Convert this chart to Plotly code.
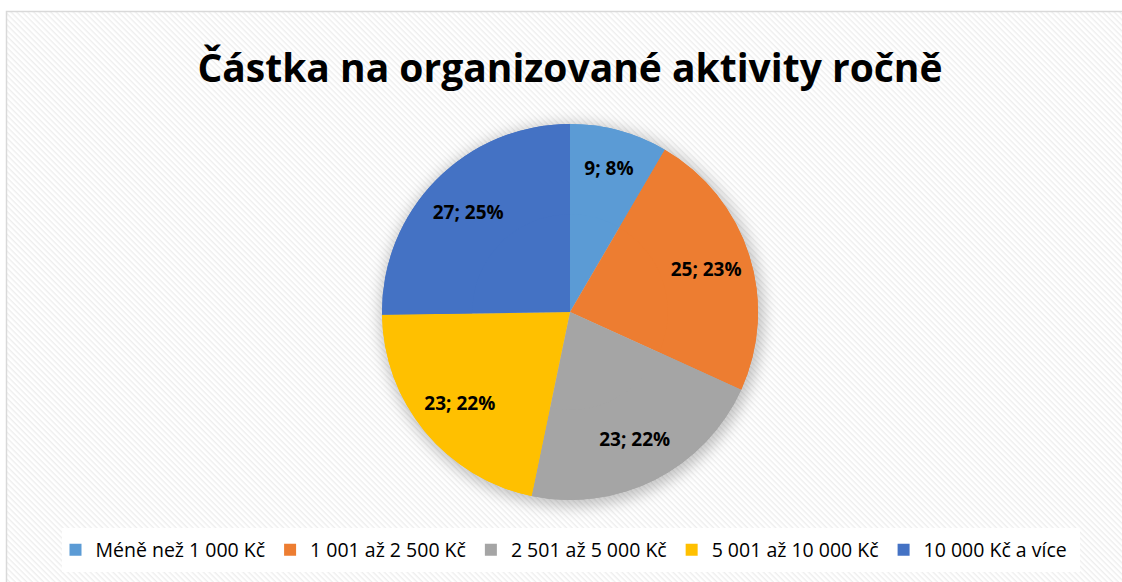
import base64
import plotly.graph_objects as go

# ---- data ----
title_text = "Částka na organizované aktivity ročně"
categories = ["Méně než 1 000 Kč", "1 001 až 2 500 Kč", "2 501 až 5 000 Kč",
              "5 001 až 10 000 Kč", "10 000 Kč a více"]
values = [9, 25, 23, 23, 27]
colors = ["#5B9BD5", "#ED7D31", "#A5A5A5", "#FFC000", "#4472C4"]

# whole-number percentages that sum to 100 (largest remainder, as the source chart shows)
total = sum(values)
raw = [v * 100 / total for v in values]
pct = [int(x) for x in raw]
order = sorted(range(len(raw)), key=lambda i: raw[i] - pct[i], reverse=True)
for i in order[: 100 - sum(pct)]:
    pct[i] += 1
pct_text = [f"{p}%" for p in pct]

W, H = 1122, 582
FONT = "Open Sans, Noto Sans, DejaVu Sans, sans-serif"

# pie placement (pixels -> paper)
cx, cy, r = 570, 312, 188
dom_x = [(cx - r) / W, (cx + r) / W]
dom_y = [1 - (cy + r) / H, 1 - (cy - r) / H]

# background: hatched chart area with frame and soft pie shadow
svg = f'''<svg xmlns="http://www.w3.org/2000/svg" width="{W}" height="{H}" viewBox="0 0 {W} {H}">
<defs>
<pattern id="p" width="4" height="4" patternUnits="userSpaceOnUse" patternTransform="rotate(45)">
<rect width="4" height="4" fill="#ffffff"/>
<rect width="4" height="1.4" fill="#eeeeee"/>
</pattern>
<filter id="b" x="-30%" y="-30%" width="160%" height="160%"><feGaussianBlur stdDeviation="7"/></filter>
</defs>
<rect x="6.5" y="11.5" width="{W}" height="{H}" fill="url(#p)" stroke="#d9d9d9" stroke-width="1.5"/>
<circle cx="{cx+2}" cy="{cy+3}" r="{r+4}" fill="#000000" fill-opacity="0.22" filter="url(#b)"/>
<rect x="62" y="528" width="1018" height="44" fill="#ffffff"/>
</svg>'''
src = "data:image/svg+xml;base64," + base64.b64encode(svg.encode("utf-8")).decode()

common = dict(
    labels=categories,
    values=values,
    marker=dict(colors=colors, line=dict(color="#ffffff", width=0)),
    sort=False,
    direction="clockwise",
    rotation=0,
    domain=dict(x=dom_x, y=dom_y),
)

fig = go.Figure()
# full pie (fills the centre)
fig.add_trace(go.Pie(**common, textinfo="none", hoverinfo="skip", showlegend=False))
# ring on top carrying the labels, so they sit further out like in the source chart
fig.add_trace(go.Pie(
    **common,
    hole=0.52,
    text=pct_text,
    texttemplate="%{value}; %{text}",
    textposition="inside",
    insidetextorientation="horizontal",
    textfont=dict(family=FONT, size=19, color="#000000", weight="bold"),
    hoverinfo="label+value+percent",
))

fig.update_layout(
    width=W, height=H,
    margin=dict(l=0, r=0, t=0, b=0),
    paper_bgcolor="#ffffff",
    title=dict(text=f"<b>{title_text}</b>", x=cx / W, xanchor="center",
               y=1 - 68 / H, yanchor="middle",
               font=dict(family=FONT, size=39, color="#000000")),
    legend=dict(orientation="h", x=(cx - 6) / W, xanchor="center", y=1 - 550 / H,
                yanchor="middle", font=dict(family=FONT, size=19.5, color="#000000"),
                bgcolor="rgba(0,0,0,0)", itemwidth=30, traceorder="normal"),
    images=[dict(source=src, xref="paper", yref="paper", x=0, y=1,
                 sizex=1, sizey=1, xanchor="left", yanchor="top",
                 sizing="stretch", layer="below")],
)

fig.write_html("out.html", config={"displayModeBar": False},
               post_script="document.body.style.margin='0';")
